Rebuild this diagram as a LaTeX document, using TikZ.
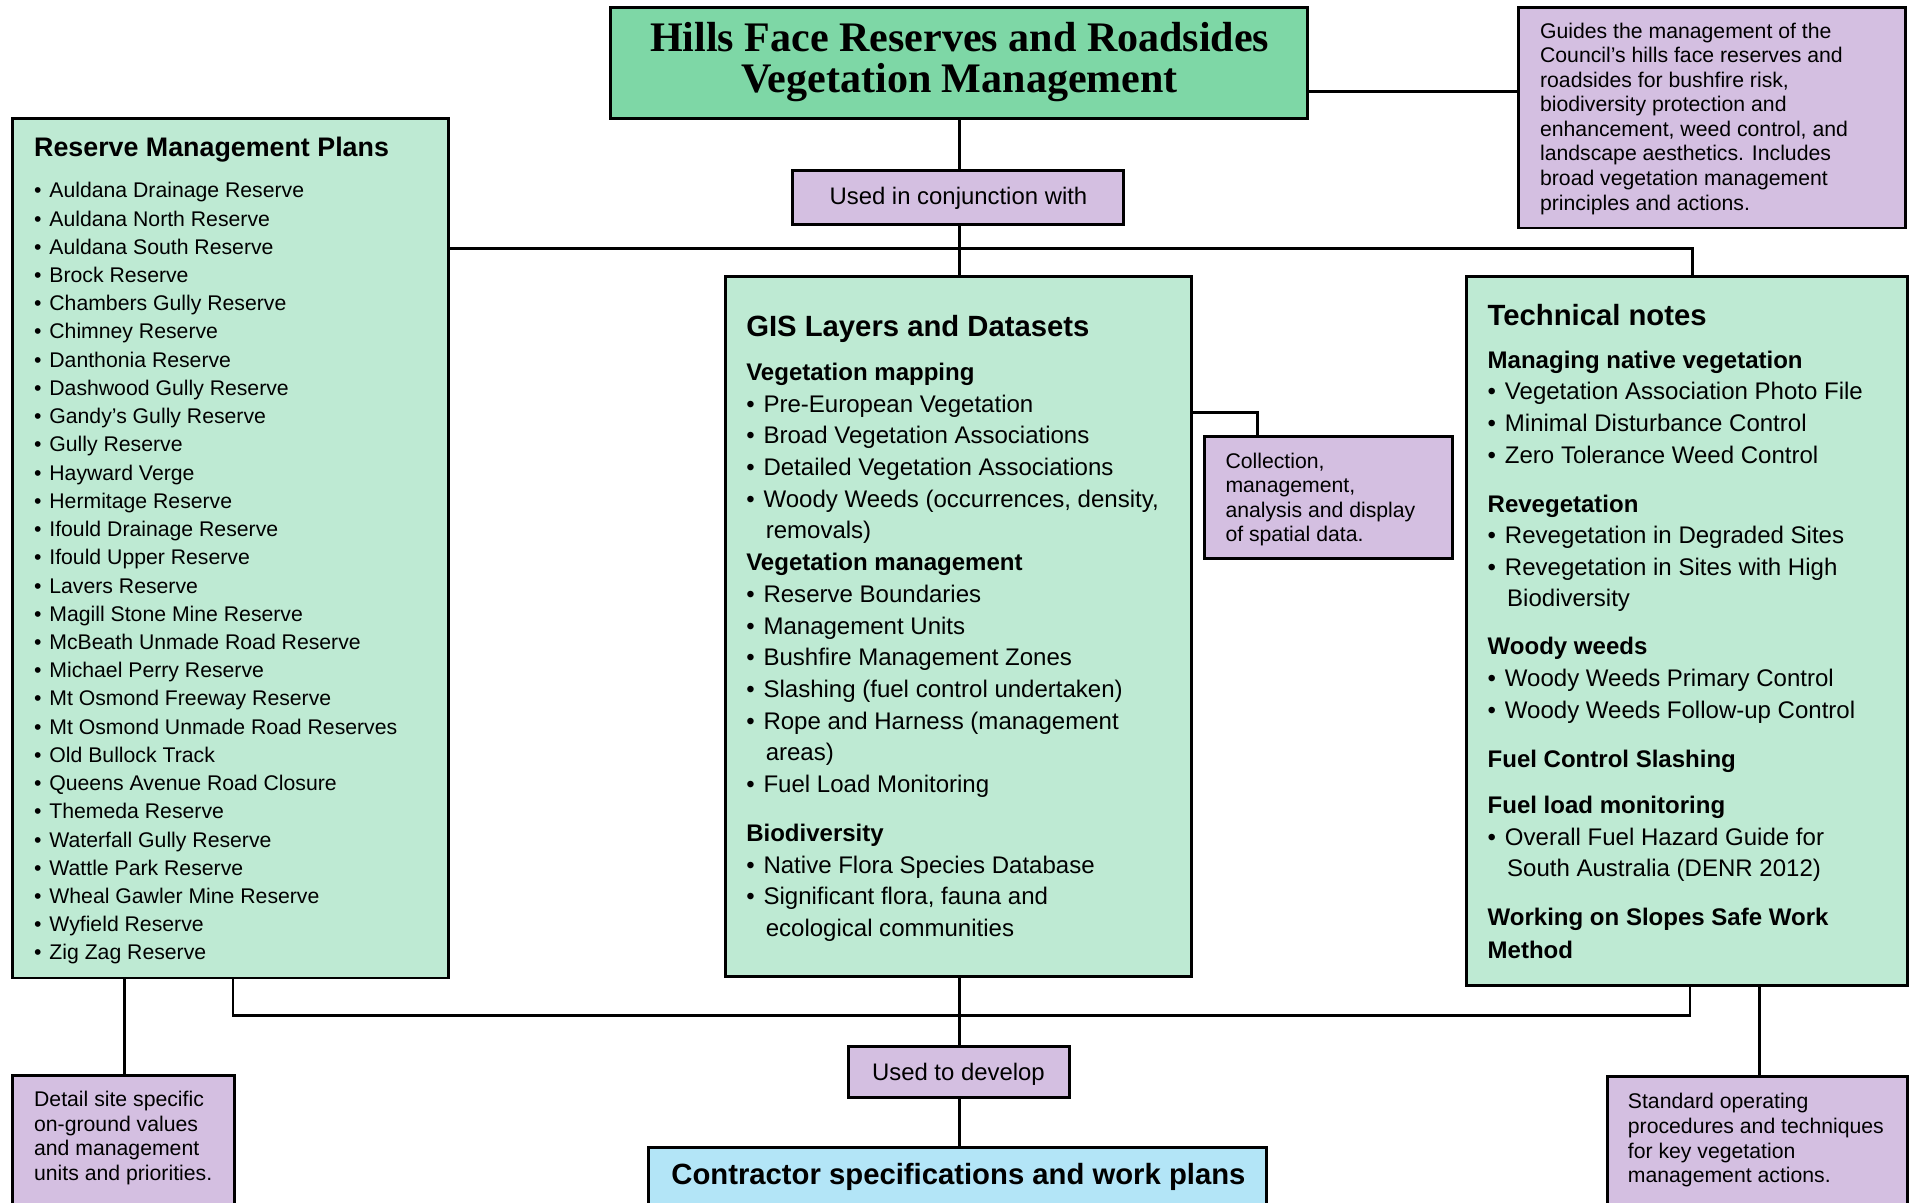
\documentclass[tikz,border=0pt]{standalone}
\usepackage{fontspec}
\setmainfont{Liberation Sans}
\newfontfamily\titlefont{Liberation Serif}
\definecolor{titlegreen}{RGB}{126,215,166}
\definecolor{boxgreen}{RGB}{190,234,211}
\definecolor{lilac}{RGB}{212,191,225}
\definecolor{skyblue}{RGB}{179,229,247}
\newcommand\bul{\textbullet\hspace{0.37em}}
\newcommand\paralines[5]{\foreach \t [count=\i from 0] in {#5} {\node[ln,fs] (#1\i) at (#2,{#3+\i*#4}) {\t};}}
\begin{document}
\begin{tikzpicture}[x=1pt,y=-1pt,
  box/.style={draw=black,line width=2.4pt,inner sep=0pt,outer sep=0pt,anchor=north west},
  conn/.style={draw=black,line width=2.2pt},
  ln/.style={anchor=base west,inner sep=0pt,outer sep=0pt},
  ctr/.style={anchor=base,inner sep=0pt,outer sep=0pt},
  fs/.style={font=\fontsize{17.4}{20}\selectfont},
  fm/.style={font=\fontsize{19.7}{24}\selectfont},
  fh/.style={font=\fontsize{24}{28}\selectfont\bfseries}]
\useasboundingbox (0,0) rectangle (1568,986);
\clip (0,0) rectangle (1568,986);

% ---------- boxes ----------
\node[box,fill=titlegreen,minimum width=571pt,minimum height=91pt] (title) at (501,6) {};
\node[box,fill=lilac,minimum width=318pt,minimum height=181pt] (guide) at (1245,6) {};
\node[box,fill=lilac,minimum width=271pt,minimum height=44pt] (conj) at (650,140) {};
\node[box,fill=boxgreen,minimum width=358pt,minimum height=705pt] (rmp) at (10,97) {};
\node[box,fill=boxgreen,minimum width=382pt,minimum height=574pt] (gis) at (595,227) {};
\node[box,fill=lilac,minimum width=203pt,minimum height=100pt] (coll) at (988,358) {};
\node[box,fill=boxgreen,minimum width=361pt,minimum height=581pt] (tech) at (1203,227) {};
\node[box,fill=lilac,minimum width=181pt,minimum height=42pt] (dev) at (696,858) {};
\node[box,fill=skyblue,minimum width=507pt,minimum height=70pt] (contr) at (532,941) {};
\node[box,fill=lilac,minimum width=182pt,minimum height=120pt] (detail) at (10,882) {};
\node[box,fill=lilac,minimum width=246pt,minimum height=120pt] (sop) at (1318,883) {};

% ---------- connectors ----------
\coordinate (tg) at (1100,75);
\draw[conn] (title.east |- tg) -- (guide.west |- tg);
\coordinate (hub) at (787,204);
\draw[conn] (title.south -| hub) -- (conj.north -| hub);
\coordinate (techtop) at (1388,204);
\draw[conn] (conj.south -| hub) -- (hub) -- (hub |- gis.north);
\draw[conn] (rmp.east |- hub) -- (techtop) -- (techtop |- tech.north);
\coordinate (gc) at (1031,338);
\draw[conn] (gis.east |- gc) -- (gc) -- (gc |- coll.north);
\coordinate (bl) at (191,833);
\coordinate (br) at (1386,833);
\draw[conn] (bl |- rmp.south) -- (bl) -- (br) -- (br |- tech.south);
\draw[conn] (gis.south -| hub) -- (dev.north -| hub);
\draw[conn] (dev.south -| hub) -- (contr.north -| hub);
\coordinate (lx) at (102,840);
\draw[conn] (lx |- rmp.south) -- (lx |- detail.north);
\coordinate (rx) at (1443,850);
\draw[conn] (rx |- tech.south) -- (rx |- sop.north);

% ---------- texts ----------
\node[ctr,font=\titlefont\bfseries\fontsize{34.5}{33}\selectfont] (titleA) at (787,42.6) {Hills Face Reserves and Roadsides};
\node[ctr,font=\titlefont\bfseries\fontsize{34.5}{33}\selectfont] (titleB) at (787,75.6) {Vegetation Management};
\node[ctr,font=\fontsize{19.6}{24}\selectfont] (conjt) at (786,168) {Used in conjunction with};
\node[ctr,font=\fontsize{19.6}{24}\selectfont] (devt) at (786,886) {Used to develop};
\node[ctr,fh] (contrt) at (786,971.6) {Contractor specifications and work plans};

\paralines{guidet}{1263}{31.2}{20.15}{Guides the management of the,Council’s hills face reserves and,{roadsides for bushfire risk,},biodiversity protection and,{enhancement, weed control, and},landscape aesthetics. Includes,broad vegetation management,principles and actions.}
\paralines{collt}{1005}{384.2}{20}{{Collection,},{management,},analysis and display,of spatial data.}
\paralines{detailt}{28}{907.2}{20.3}{Detail site specific,on-ground values,and management,units and priorities.}
\paralines{sopt}{1335}{909.2}{20.3}{Standard operating,procedures and techniques,for key vegetation,management actions.}

% Reserve Management Plans
\node[ln,font=\fontsize{22}{26}\selectfont\bfseries] (rmph) at (28,128) {Reserve Management Plans};
\foreach \t [count=\i from 0] in {Auldana Drainage Reserve,Auldana North Reserve,Auldana South Reserve,Brock Reserve,Chambers Gully Reserve,Chimney Reserve,Danthonia Reserve,Dashwood Gully Reserve,Gandy's Gully Reserve,Gully Reserve,Hayward Verge,Hermitage Reserve,Ifould Drainage Reserve,Ifould Upper Reserve,Lavers Reserve,Magill Stone Mine Reserve,McBeath Unmade Road Reserve,Michael Perry Reserve,Mt Osmond Freeway Reserve,Mt Osmond Unmade Road Reserves,Old Bullock Track,Queens Avenue Road Closure,Themeda Reserve,Waterfall Gully Reserve,Wattle Park Reserve,Wheal Gawler Mine Reserve,Wyfield Reserve,Zig Zag Reserve}
  {\node[ln,fs] (rmp\i) at (28,{162.2+\i*23.15}) {\bul\t};}

% GIS Layers and Datasets
\node[ln,fh] (gish) at (612,275.6) {GIS Layers and Datasets};
\foreach \y/\t [count=\i] in {
  305/{\bfseries Vegetation mapping},
  331/{\bul Pre-European Vegetation},
  357/{\bul Broad Vegetation Associations},
  383/{\bul Detailed Vegetation Associations},
  409/{\bul Woody Weeds (occurrences, density,},
  435/{\hspace*{16pt}removals)},
  461/{\bfseries Vegetation management},
  487/{\bul Reserve Boundaries},
  513/{\bul Management Units},
  539/{\bul Bushfire Management Zones},
  565/{\bul Slashing (fuel control undertaken)},
  591/{\bul Rope and Harness (management},
  617/{\hspace*{16pt}areas)},
  643/{\bul Fuel Load Monitoring},
  683/{\bfseries Biodiversity},
  709/{\bul Native Flora Species Database},
  735/{\bul Significant flora, fauna and},
  761/{\hspace*{16pt}ecological communities}}
  {\node[ln,fm] (gis\i) at (612,{\y+7}) {\t};}

% Technical notes
\node[ln,fh] (techh) at (1220,266.6) {Technical notes};
\foreach \y/\t [count=\i] in {
  295/{\bfseries Managing native vegetation},
  321/{\bul Vegetation Association Photo File},
  347/{\bul Minimal Disturbance Control},
  373/{\bul Zero Tolerance Weed Control},
  413/{\bfseries Revegetation},
  439/{\bul Revegetation in Degraded Sites},
  465/{\bul Revegetation in Sites with High},
  490/{\hspace*{16pt}Biodiversity},
  530/{\bfseries Woody weeds},
  556/{\bul Woody Weeds Primary Control},
  582/{\bul Woody Weeds Follow-up Control},
  622/{\bfseries Fuel Control Slashing},
  660/{\bfseries Fuel load monitoring},
  686/{\bul Overall Fuel Hazard Guide for},
  712/{\hspace*{16pt}South Australia (DENR 2012)},
  752/{\bfseries Working on Slopes Safe Work},
  779/{\bfseries Method}}
  {\node[ln,fm] (tech\i) at (1220,{\y+7}) {\t};}
\end{tikzpicture}
\end{document}
